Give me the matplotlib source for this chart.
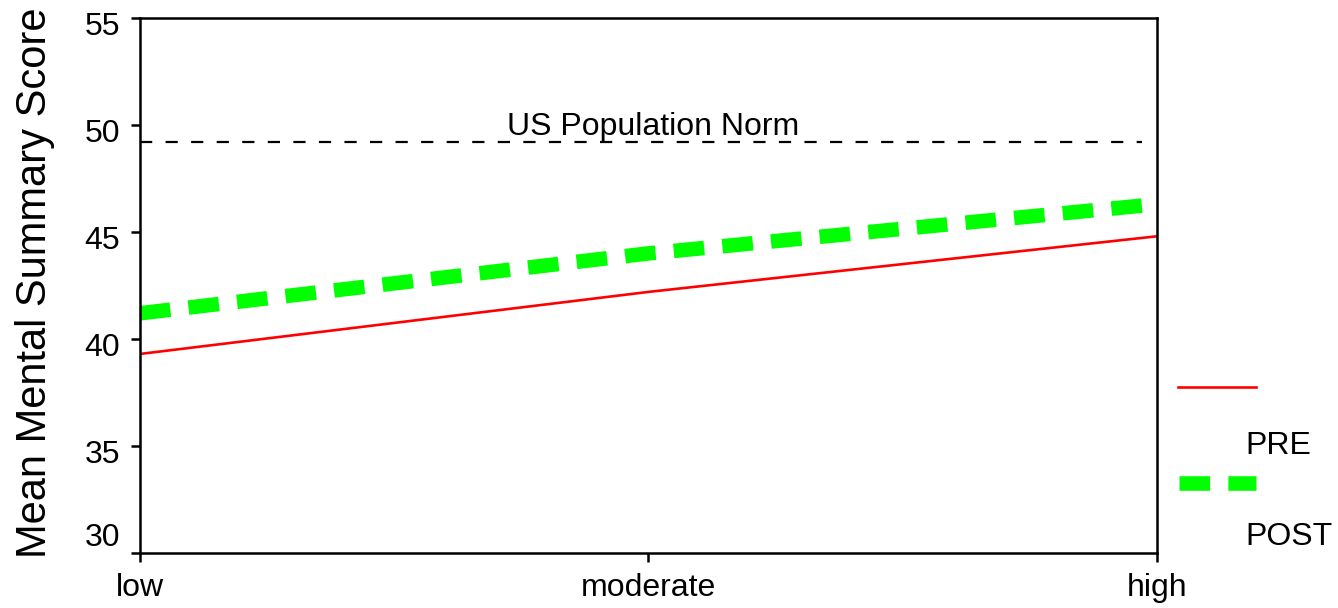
import matplotlib
matplotlib.use("Agg")
import matplotlib.pyplot as plt
import matplotlib.transforms as mtransforms
from matplotlib.lines import Line2D

plt.rcParams["font.family"] = ["Liberation Sans", "DejaVu Sans"]

# data
categories = ["low", "moderate", "high"]
pre_scores = [39.3, 42.2, 44.8]
post_scores = [41.2, 44.0, 46.3]
us_norm = 49.2
y_ticks = [30, 35, 40, 45, 50, 55]

fig = plt.figure(figsize=(13.38, 6.08), dpi=100)
ax = fig.add_axes([0.1046, 0.0905, 0.7601, 0.8799])

x = list(range(len(categories)))
ax.plot(x, pre_scores, color="#ff0000", lw=1.9, solid_capstyle="butt")
ax.plot(x, post_scores, color="#00ff00", lw=10.5, dashes=(2.1, 1.25),
        dash_capstyle="butt")

# population norm reference line
ax.plot([0, 1.97], [us_norm, us_norm], color="black", lw=1.6,
        dashes=(5.5, 6), dash_capstyle="butt")
ax.text(1.01, us_norm + 0.02, "US Population Norm", ha="center", va="bottom",
        fontsize=23)

ax.set_xlim(0, 2)
ax.set_ylim(30, 55)
ax.set_xticks(x)
ax.set_xticklabels(categories)
ax.set_yticks(y_ticks)
ax.tick_params(axis="both", direction="out", length=6.5, width=1.8,
               labelsize=23)
ax.tick_params(axis="y", pad=8)
ax.tick_params(axis="x", pad=8)
for s in ax.spines.values():
    s.set_linewidth(1.8)

# y tick labels sit a little below their ticks, the bottom one is raised
for lab, val in zip(ax.get_yticklabels(), y_ticks):
    dy = 13 / 72 if val == 30 else -4 / 72
    lab.set_transform(lab.get_transform() +
                      mtransforms.ScaledTranslation(0, dy, fig.dpi_scale_trans))

fig.text(35 / 1338, 0.535, "Mean Mental Summary Score", rotation=90,
         ha="center", va="center", fontsize=30)

# legend outside on the right, drawn by hand to match the odd layout
fig.add_artist(Line2D([1178 / 1338, 1256 / 1338], [1 - 387 / 608] * 2,
                      color="#ff0000", lw=1.9, transform=fig.transFigure))
fig.text(1245 / 1338, 1 - 446 / 608, "PRE", ha="left", va="center",
         fontsize=23)
fig.add_artist(Line2D([1179 / 1338, 1256 / 1338], [1 - 483 / 608] * 2,
                      color="#00ff00", lw=10.5, dashes=(2.1, 1.25),
                      dash_capstyle="butt", transform=fig.transFigure))
fig.text(1245 / 1338, 1 - 537 / 608, "POST", ha="left", va="center",
         fontsize=23)

fig.savefig("out.png", dpi=100)
